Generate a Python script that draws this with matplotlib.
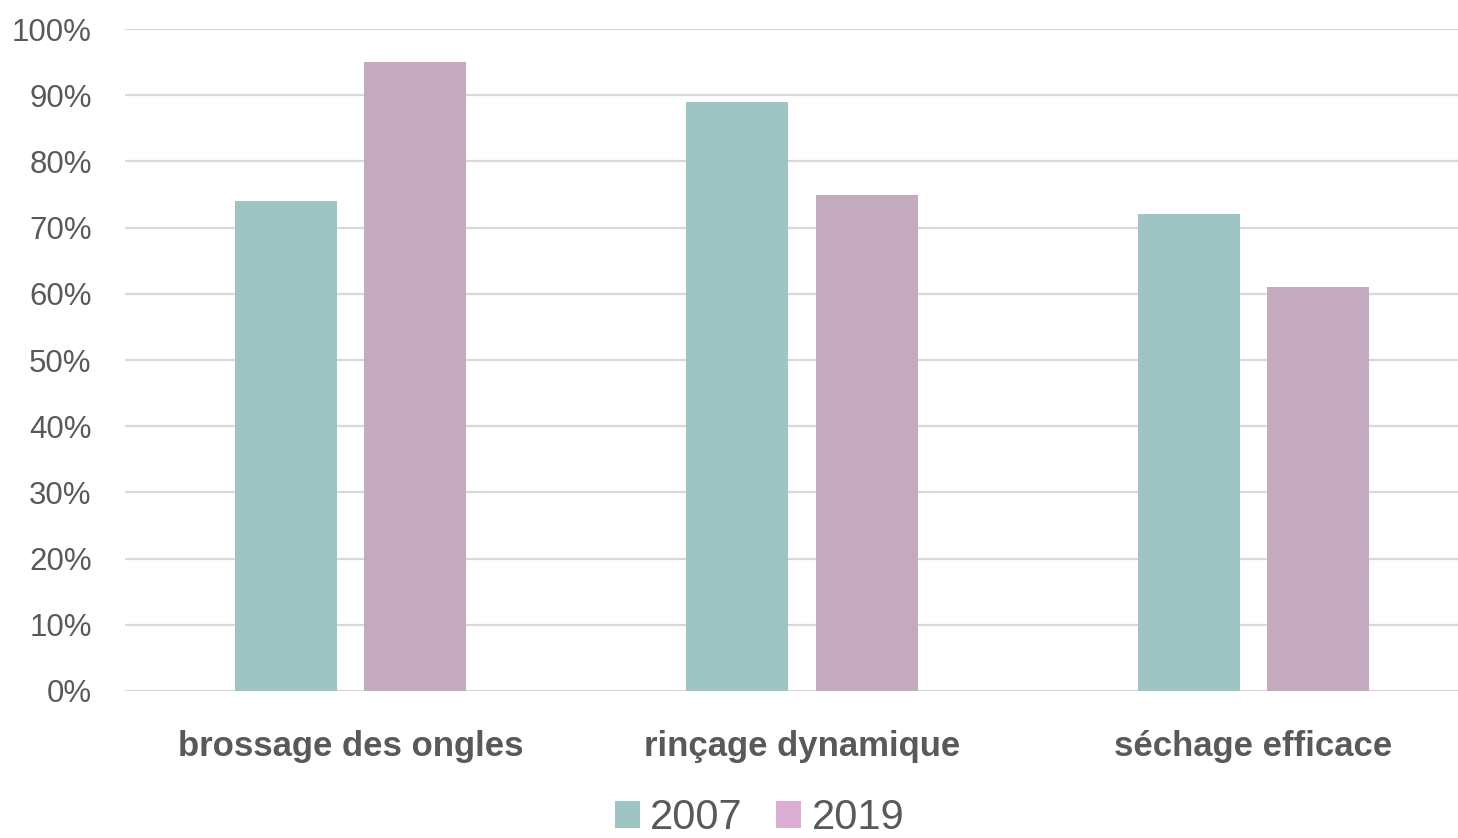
import matplotlib
matplotlib.use("Agg")
import matplotlib.pyplot as plt
from matplotlib.patches import Patch
import numpy as np

categories = ["brossage des ongles", "rinçage dynamique", "séchage efficace"]
series_names = ["2007", "2019"]
values_2007 = [74, 89, 72]
values_2019 = [95, 75, 61]
yticks = [0, 10, 20, 30, 40, 50, 60, 70, 80, 90, 100]

bar_colors = ["#9fc4c4", "#c4aabe"]
legend_colors = ["#9fc4c4", "#dcaed4"]
text_color = "#595959"
FONT = ["Liberation Sans Narrow", "Liberation Sans", "DejaVu Sans"]

plt.rcParams["font.family"] = FONT

fig = plt.figure(figsize=(14.58, 8.38), dpi=100)
ax = fig.add_axes([125 / 1458, 1 - 691 / 838, (1479 - 125) / 1458, (691 - 29) / 838])

x = np.arange(len(categories))
w = 0.226
off = 0.143
ax.bar(x - off, values_2007, width=w, color=bar_colors[0], zorder=3)
ax.bar(x + off, values_2019, width=w, color=bar_colors[1], zorder=3)

ax.set_xlim(-0.5, len(categories) - 0.5)
ax.set_ylim(0, 100)
ax.set_yticks(yticks)
ax.set_yticklabels([f"{t}%" for t in yticks], fontsize=22.5, color=text_color)
ax.set_xticks(x)
ax.set_xticklabels(categories, fontsize=25, fontweight="bold", color=text_color)
ax.tick_params(axis="both", length=0)
ax.tick_params(axis="y", pad=24)
ax.tick_params(axis="x", pad=28)
ax.yaxis.grid(True, color="#d9d9d9", linewidth=1.6, zorder=0)
for s in ax.spines.values():
    s.set_visible(False)

handles = [Patch(facecolor=c, edgecolor="none") for c in legend_colors]
leg = fig.legend(handles, series_names, loc="lower center", bbox_to_anchor=(759.5 / 1458, -0.045),
                 ncol=2, frameon=False, fontsize=30, handlelength=0.6, handleheight=0.6,
                 handletextpad=0.25, columnspacing=0.8)
for t in leg.get_texts():
    t.set_color(text_color)

fig.savefig("out.png", dpi=100)
